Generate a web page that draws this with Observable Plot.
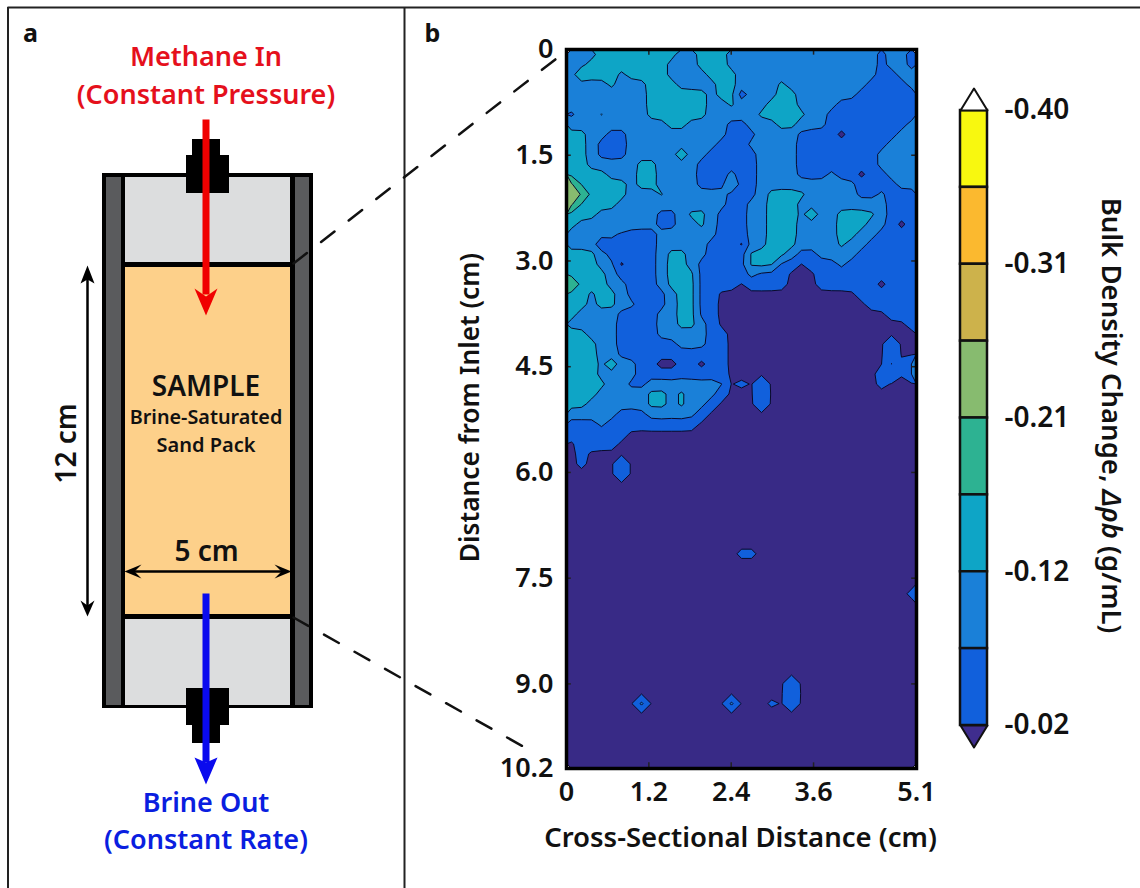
<!DOCTYPE html>
<html>
<head>
<meta charset="utf-8">
<script src="https://cdn.jsdelivr.net/npm/d3@7"></script>
<script src="https://cdn.jsdelivr.net/npm/@observablehq/plot@0.6"></script>
<style>
html,body{margin:0;padding:0;background:#fff;}
#fig{position:relative;width:1140px;height:888px;overflow:hidden;}
#fig svg{position:absolute;left:0;top:0;}
</style>
</head>
<body>
<div id="fig"></div>
<script>
const FONT = '"Noto Sans", sans-serif';

const bandValues = [-0.005, -0.044, -0.09, -0.14, -0.185, 0.02, -0.24];
const mapRows = [
"222 33333333 22 333 222222222222222 1 22 1",
"22 33333333 222 333 222222222222222 1 22 1",
"2 4 333 2 3333 2222 333 22222222222222 1 1 2 2",
"2222 3 222 333 2222 33 2222 3 22222222 1111 2",
"22222222 333333 2 33 0 222 33 222222 111111",
"22222222 333333 22 3 222 333 2222 11111111",
"1 22 3 222 2 333333 22222 33333 22 111111111",
"2222222222 33 2222 11 222 33 222 11111111 2",
"33 22 11 2222222222 111 2222 1111 5 11111 22",
"33 2 111 222222222 111 22222 111111111 222",
"33 2 111 22222 4 22 11111 2222 11111111 2222",
"33 2222 2 33 2222 111111 2222 11111111 2222",
"3333 22 2 33 2222 111 2 11 2222 111 2 11 5 11 222",
"6 33333 2 33 2222 111 3 11 2222222222 111 1 22",
"66 3333 222 3 222222 111 2 333 3 22222 11 2 111",
"6 3333 22222222222 11 22 333 222222222 111",
"333 222222 11 2 33 2 111 22 333 2 4 22 3333 2 111",
"3 2222 3 222 11 22 3 2 111 22 333 2222 333 2 2 151",
"2222 2 1111 222222 111 22 333 2222 33 22 1111",
"222 0 11111 22222 1115 22 333 2222 3 22 11111",
"333 2 11111 2 33 22 1111 3333 2 11 2222 111111",
"333 2 2 5 111 2 33 2 11111 333 11 0 111 2 1111111",
"3333 2 1111 2 333 11111 2 111 000 1111111111",
"6333 2 2 111 2 333 1111 0 1111 000 111111 5 111",
"33 2 33 2 1111 2 33 11 00000000000000 111111",
"33 2 33 22 111 2 33 11 000000000000000 11111",
"3 2222 1111 22 33 11 00000000000000000 111",
"22222 1111 22 33 2 1 0000000000000000000 1",
"33 222 1111 22222 11 0000000000000000000",
"333 22 111111 222 11 0000000000000000 2 00",
"333 22 11111111111 0000000000000000 2 00",
"333 2 4 22 11 55 11 5 11 0000000000000000 2 0 2",
"333 2 2 22 111111111 000000000000000 1 2 0 2",
"3333 22 11 22222222 0 1 0 2 00000000000 1 000",
"333 22222 33 2 3 222 1 000 2 000000000000000",
"33 222222 33 2 3 2 2 1 0000 2 000000000000000",
"22222 111 22222 1 000000000000000000000",
"111 2 111111111 0000000000000000000000",
"111111 00000000000000000000000000000",
"0 1111 000000000000000000000000000000",
"01 000000000000000000000000000000000",
"01 000 2 00000000000000000000000000000",
"00000 2 00000000000000000000000000000",
"00000000000000000000000000000000000",
"00000000000000000000000000000000000",
"00000000000000000000000000000000000",
"00000000000000000000000000000000000",
"00000000000000000000000000000000000",
"00000000000000000000000000000000000",
"00000000000000000000000000000000000",
"00000000000000000 11 0000000000000000",
"00000000000000000000000000000000000",
"00000000000000000000000000000000000",
"00000000000000000000000000000000000",
"0000000000000000000000000000000000 1",
"00000000000000000000000000000000000",
"00000000000000000000000000000000000",
"00000000000000000000000000000000000",
"00000000000000000000000000000000000",
"00000000000000000000000000000000000",
"00000000000000000000000000000000000",
"00000000000000000000000000000000000",
"00000000000000000000000000000000000",
"0000000000000000000000 2 000000000000",
"0000000000000000000000 2 000000000000",
"0000000 3 00000000 3 000 1 0 2 000000000000",
"00000000000000000000000000000000000",
"00000000000000000000000000000000000",
"00000000000000000000000000000000000",
"00000000000000000000000000000000000",
"00000000000000000000000000000000000",
"00000000000000000000000000000000000"
];
const mapCols = 35;
const mapValues = mapRows.flatMap(r => Array.from(r.replace(/ /g, "").padEnd(mapCols, "0").slice(0, mapCols), c => bandValues[+c]));

const levels = [-0.40, -0.3525, -0.305, -0.2575, -0.21, -0.1625, -0.115, -0.0675, -0.02];
const levelColors = ["#f8f80f", "#fbb92f", "#cdb24b", "#87bb6f", "#2db292", "#0ea5c6", "#1a80d8", "#1160dc", "#382a86"];

const xTicks = [0, 1.2, 2.4, 3.6, 5.1];
const xTickLabels = ["0", "1.2", "2.4", "3.6", "5.1"];
const yTicks = [0, 1.5, 3.0, 4.5, 6.0, 7.5, 9.0, 10.2];
const yTickLabels = ["0", "1.5", "3.0", "4.5", "6.0", "7.5", "9.0", "10.2"];
const innerXTicks = [1.2, 2.4, 3.6];
const innerYTicks = [1.5, 3.0, 4.5, 6.0, 7.5, 9.0];

// ---------- colour bar
const barTicks = [-0.40, -0.305, -0.21, -0.115, -0.02];
const barLabels = ["-0.40", "-0.31", "-0.21", "-0.12", "-0.02"];
const barTop = [[0, -0.40], [0.5, -0.4136], [1, -0.40], [0, -0.40]];
const barBottom = [[0, -0.02], [0.5, -0.0064], [1, -0.02], [0, -0.02]];
const barBelowColor = "#3f2d8e";

// ---------- panel a: sample column schematic, in figure units
const partNames = ["tubeOuter", "wallL", "wallR", "topGas", "sample", "bottomGas", "topLine", "botLine",
                   "fitTopA", "fitTopB", "fitBotA", "fitBotB"];
const partX1 = [102, 106, 295, 125, 125, 125, 121, 121, 192, 186, 186, 192];
const partX2 = [313, 121, 309, 290, 290, 290, 295, 295, 220, 229, 229, 220];
const partY1 = [173, 177, 177, 177, 266, 618, 262, 614, 139, 155, 688, 725];
const partY2 = [708, 705, 705, 264, 616, 705, 267, 619, 156, 193, 725, 743];
const partFill = ["#000", "#5a5b5d", "#5a5b5d", "#dcddde", "#fdd08a", "#dcddde", "#000", "#000",
                  "#000", "#000", "#000", "#000"];
const parts = partNames.map((name, i) => ({name, x1: partX1[i], x2: partX2[i], y1: partY1[i], y2: partY2[i], fill: partFill[i]}));

const redHead = [[194, 288], [205.5, 315], [217, 288], [205.5, 296]];
const blueHead = [[194, 757], [205.5, 784], [217, 757], [205.5, 762]];
const len12Up = [[87, 265], [80, 283], [87, 279], [94, 283]];
const len12Down = [[87, 616], [80, 600], [87, 605], [94, 600]];
const wid5Left = [[124, 571], [141, 564], [134, 571], [141, 578]];
const wid5Right = [[291, 571], [274, 564], [281, 571], [274, 578]];

const dashUpper = [[293, 263], [556, 58]];
const dashLower = [[293, 617], [528, 749]];

const labelsA = [
  {t: "Methane In", x: 205.5, y: 57, s: 27, c: "#e5101c"},
  {t: "(Constant Pressure)", x: 205.5, y: 95, s: 27, c: "#e5101c"},
  {t: "SAMPLE", x: 205.5, y: 387, s: 28, c: "#111"},
  {t: "Brine-Saturated", x: 205.5, y: 417, s: 19.8, c: "#111"},
  {t: "Sand Pack", x: 205.5, y: 445, s: 20, c: "#111"},
  {t: "5 cm", x: 206, y: 552, s: 28, c: "#111"},
  {t: "Brine Out", x: 205.5, y: 803, s: 27, c: "#0a1ee0"},
  {t: "(Constant Rate)", x: 205.5, y: 840, s: 27, c: "#0a1ee0"}
];
const panelTags = [{t: "a", x: 30, y: 33}, {t: "b", x: 432, y: 33}];

// ---------- draw
const fig = document.getElementById("fig");
const polygon = (pts, fill) => Plot.line(pts, {fill, stroke: "none"});
const shaft = (pts, stroke, strokeWidth) => Plot.line(pts, {stroke, strokeWidth, strokeLinecap: "butt"});

const schematic = Plot.plot({
  width: 1140, height: 888, margin: 0,
  style: {background: "none", fontFamily: FONT},
  x: {domain: [0, 1140], range: [0, 1140], axis: null},
  y: {domain: [0, 888], range: [0, 888], axis: null},
  color: {type: "identity"},
  marks: [
    Plot.ruleX([7.5, 404], {y1: 7, y2: 888, stroke: "#222", strokeWidth: 2}),
    Plot.ruleY([7], {x1: 7.5, x2: 1140, stroke: "#222", strokeWidth: 2}),
    Plot.rect(parts, {x1: "x1", x2: "x2", y1: "y1", y2: "y2", fill: "fill"}),
    shaft([[205.5, 119], [205.5, 294]], "#f00000", 7),
    polygon(redHead, "#f00000"),
    shaft([[205.5, 593], [205.5, 762]], "#0a0aee", 7),
    polygon(blueHead, "#0a0aee"),
    shaft([[87, 275], [87, 607]], "#000", 2.5),
    polygon(len12Up, "#000"),
    polygon(len12Down, "#000"),
    shaft([[132, 571], [283, 571]], "#000", 2.5),
    polygon(wid5Left, "#000"),
    polygon(wid5Right, "#000"),
    Plot.line(dashUpper, {stroke: "#111", strokeWidth: 2.5, strokeDasharray: "17,18"}),
    Plot.line(dashLower, {stroke: "#111", strokeWidth: 2.5, strokeDasharray: "17,18"}),
    Plot.text(labelsA, {x: "x", y: "y", text: "t", fill: "c", fontSize: "s", fontWeight: 600, fontFamily: FONT, textAnchor: "middle"}),
    Plot.text(panelTags, {x: "x", y: "y", text: "t", fill: "#111", fontSize: 25, fontWeight: 700, fontFamily: FONT, textAnchor: "middle"}),
    Plot.text(["12 cm"], {x: [67], y: [443], rotate: -90, fontSize: 28, fontWeight: 600, fill: "#111", fontFamily: FONT})
  ]
});
fig.appendChild(schematic);

const mapPlot = Plot.plot({
  width: 1140, height: 888,
  marginLeft: 566, marginRight: 224, marginTop: 49, marginBottom: 120,
  style: {background: "none", fontFamily: FONT},
  x: {domain: [0, 5.1], range: [566, 916], axis: null},
  y: {domain: [0, 10.2], range: [49, 768], axis: null},
  color: {type: "ordinal", domain: levels, range: levelColors},
  marks: [
    Plot.contour(mapValues, {
      width: mapCols, height: mapRows.length,
      x1: 0, x2: 5.1, y1: 0, y2: 10.2,
      fill: Plot.identity, thresholds: levels, blur: 0.06,
      stroke: "#0a0a2a", strokeWidth: 1
    }),
    Plot.ruleX(innerXTicks, {y1: 10.2, y2: 10.12, stroke: "#222", strokeWidth: 1.5}),
    Plot.ruleX(innerXTicks, {y1: 0, y2: 0.08, stroke: "#222", strokeWidth: 1.5}),
    Plot.ruleY(innerYTicks, {x1: 0, x2: 0.07, stroke: "#222", strokeWidth: 1.5}),
    Plot.ruleY(innerYTicks, {x1: 5.1, x2: 5.03, stroke: "#222", strokeWidth: 1.5}),
    Plot.frame({stroke: "#000", strokeWidth: 3.5}),
    Plot.axisX(xTicks, {anchor: "bottom", tickSize: 0, tickPadding: 13, label: null,
      tickFormat: d => xTickLabels[xTicks.indexOf(d)], fontSize: 27, fontWeight: 600, fill: "#111"}),
    Plot.axisY(yTicks, {anchor: "left", tickSize: 0, tickPadding: 13, label: null,
      tickFormat: d => yTickLabels[yTicks.indexOf(d)], fontSize: 27, fontWeight: 600, fill: "#111"}),
    Plot.text(["Cross-Sectional Distance (cm)"], {x: [2.535], y: [10.2], dy: 70, fontSize: 27.5, fontWeight: 600, fill: "#111", fontFamily: FONT}),
    Plot.text(["Distance from Inlet (cm)"], {x: [0], y: [5.08], dx: -96, rotate: -90, fontSize: 26.3, fontWeight: 600, fill: "#111", fontFamily: FONT})
  ]
});
fig.appendChild(mapPlot);

const barBands = levels.slice(0, -1).map((v, i) => ({y1: v, y2: levels[i + 1], fill: levelColors[i]}));
const barPlot = Plot.plot({
  width: 1140, height: 888,
  style: {background: "none", fontFamily: FONT},
  x: {domain: [0, 1], range: [960, 987], axis: null},
  y: {domain: [-0.40, -0.02], range: [110, 725], axis: null},
  color: {type: "identity"},
  marks: [
    Plot.rect(barBands, {x1: 0, x2: 1, y1: "y1", y2: "y2", fill: "fill", stroke: "#111", strokeWidth: 2.5}),
    Plot.line(barTop, {fill: "#fff", stroke: "#111", strokeWidth: 2}),
    Plot.line(barBottom, {fill: barBelowColor, stroke: "#111", strokeWidth: 2}),
    Plot.text(barTicks, {x: 1, y: d => d, text: (d, i) => barLabels[i], dx: 17, textAnchor: "start", fontSize: 28, fontWeight: 600, fill: "#111", fontFamily: FONT}),
    Plot.text(["Bulk Density Change, Δρb (g/mL)"], {x: [1], y: [-0.2115], dx: 123, rotate: 90, fontSize: 27.5, fontWeight: 600, fill: "#111", fontFamily: FONT})
  ]
});
fig.appendChild(barPlot);

// Italicise the symbol in the colour-bar title
d3.select(barPlot).selectAll("text").filter(function () { return this.textContent.startsWith("Bulk"); }).each(function () {
  const el = d3.select(this), pieces = ["Bulk Density Change, ", "Δρb", " (g/mL)"];
  const host = el.select("tspan").empty() ? el : el.select("tspan");
  host.text(null);
  pieces.forEach((p, i) => host.append("tspan").style("font-style", i === 1 ? "italic" : "normal").text(p));
});
</script>
</body>
</html>
